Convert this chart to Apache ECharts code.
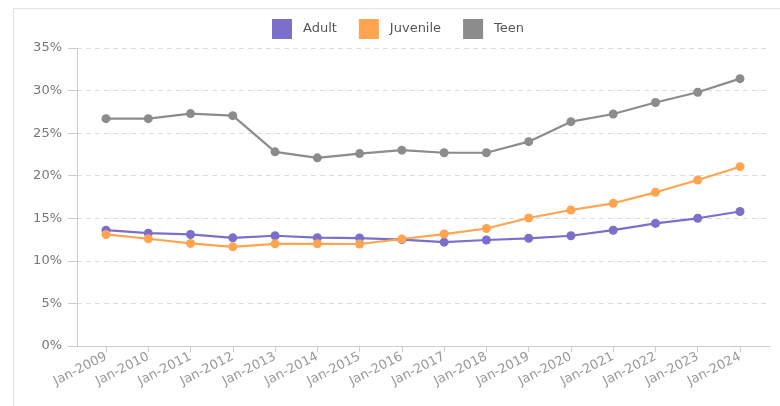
<!DOCTYPE html>
<html>
<head>
<meta charset="utf-8">
<script src="https://cdn.jsdelivr.net/npm/echarts@6/dist/echarts.min.js"></script>
<style>html,body{margin:0;padding:0;background:#fff;}#c{width:780px;height:406px;}</style>
</head>
<body>
<div id="c"></div>
<script>
const categories = ['Jan-2009','Jan-2010','Jan-2011','Jan-2012','Jan-2013','Jan-2014','Jan-2015','Jan-2016','Jan-2017','Jan-2018','Jan-2019','Jan-2020','Jan-2021','Jan-2022','Jan-2023','Jan-2024'];
const adult    = [13.6, 13.25, 13.1, 12.7, 12.95, 12.72, 12.68, 12.5, 12.2, 12.45, 12.65, 12.95, 13.6, 14.4, 15.0, 15.8];
const juvenile = [13.1, 12.6, 12.05, 11.65, 12.0, 12.0, 11.98, 12.57, 13.15, 13.8, 15.03, 15.97, 16.76, 18.05, 19.5, 21.06];
const teen     = [26.7, 26.7, 27.3, 27.05, 22.8, 22.1, 22.6, 23.0, 22.7, 22.7, 24.0, 26.35, 27.25, 28.6, 29.8, 31.4];
const yTicks = [0, 5, 10, 15, 20, 25, 30, 35];

const font = 'DejaVu Sans';
const chart = echarts.init(document.getElementById('c'), null, {renderer: 'canvas'});
const mk = (name, data, color) => ({
  name, type: 'line', data, xAxisIndex: 0, yAxisIndex: 0,
  symbol: 'circle', symbolSize: 9, showSymbol: true,
  lineStyle: {width: 2.2, color}, itemStyle: {color},
  emphasis: {disabled: true}
});
chart.setOption({
  animation: false,
  textStyle: {fontFamily: font},
  graphic: [
    {type: 'line', shape: {x1: 13, y1: 8.5, x2: 780, y2: 8.5}, style: {stroke: '#e3e3e3', lineWidth: 1}, silent: true},
    {type: 'line', shape: {x1: 13.5, y1: 8, x2: 13.5, y2: 406}, style: {stroke: '#e3e3e3', lineWidth: 1}, silent: true}
  ],
  legend: {
    left: 267, top: 14,
    itemWidth: 20, itemHeight: 20, itemGap: 22,
    icon: 'rect',
    textStyle: {fontFamily: font, fontSize: 13, color: '#555', padding: [0, 0, 0, 6]},
    data: ['Adult', 'Juvenile', 'Teen']
  },
  grid: [
    {left: 106, right: 40, top: 48, bottom: 60},
    {left: 77, right: 10, top: 48, bottom: 60}
  ],
  xAxis: [
    {
      type: 'category', gridIndex: 0, data: categories, boundaryGap: false,
      axisLine: {show: false},
      axisTick: {show: true, alignWithLabel: true, length: 6, lineStyle: {color: '#ccc'}},
      axisLabel: {rotate: 27, margin: 10, fontFamily: font, fontSize: 13, color: '#999', interval: 0},
      splitLine: {show: false}
    },
    {
      type: 'value', gridIndex: 1, min: 0, max: 1,
      axisLine: {show: true, lineStyle: {color: '#ccc', width: 1}},
      axisTick: {show: false}, axisLabel: {show: false}, splitLine: {show: false}
    }
  ],
  yAxis: [
    {
      type: 'value', gridIndex: 0, min: yTicks[0], max: yTicks[yTicks.length - 1], interval: 5,
      show: false
    },
    {
      type: 'value', gridIndex: 1, min: yTicks[0], max: yTicks[yTicks.length - 1], interval: 5,
      axisLine: {show: true, lineStyle: {color: '#ccc', width: 1}},
      axisTick: {show: true, length: 9, lineStyle: {color: '#ccc'}},
      axisLabel: {margin: 15, fontFamily: font, fontSize: 13, color: '#777', formatter: v => v + '%'},
      splitLine: {show: true, lineStyle: {color: '#ddd', type: [5, 4], width: 1}}
    }
  ],
  series: [
    mk('Adult', adult, '#7B6FCB'),
    mk('Juvenile', juvenile, '#FFA44F'),
    mk('Teen', teen, '#8C8C8C')
  ]
});
</script>
</body>
</html>
